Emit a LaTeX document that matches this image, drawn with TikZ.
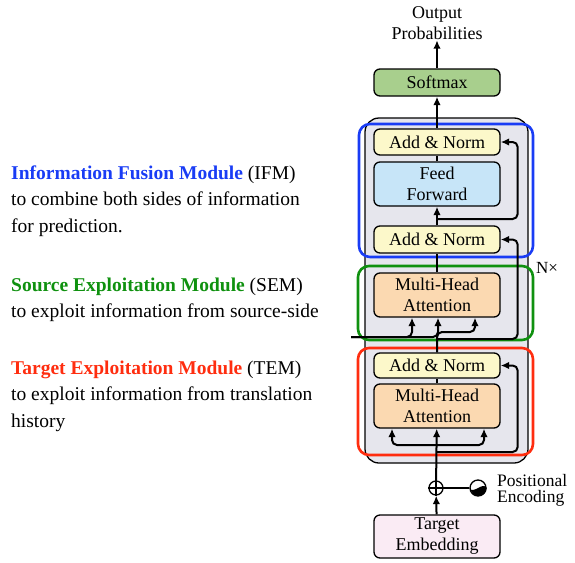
\documentclass[tikz,border=0pt]{standalone}
\usepackage{fontspec}
\setmainfont{Liberation Serif}
\usetikzlibrary{arrows.meta,positioning}

\definecolor{layergray}{RGB}{230,230,237}
\definecolor{softgreen}{RGB}{168,207,141}
\definecolor{normyellow}{RGB}{252,248,202}
\definecolor{ffblue}{RGB}{199,229,248}
\definecolor{attpeach}{RGB}{251,217,177}
\definecolor{embpink}{RGB}{250,235,244}
\definecolor{ifmblue}{RGB}{25,60,245}
\definecolor{semgreen}{RGB}{15,145,15}
\definecolor{temred}{RGB}{255,45,15}

\begin{document}
\begin{tikzpicture}[
  x=1pt, y=-1pt,
  >={Latex[length=8.5pt,width=7.5pt]},
  every node/.style={font=\fontsize{18}{21}\selectfont, inner sep=0pt, align=center},
  block/.style={draw, rounded corners=6pt, line width=1.3pt, minimum width=126pt},
  frame/.style={draw, rounded corners=11pt, line width=2.6pt},
  link/.style={line width=2pt},
  desc/.style={anchor=west, align=left, font=\fontsize{19.5}{26.5}\selectfont}
]
\useasboundingbox (0,0) rectangle (575,562);

% decoder layer and the three modules
\node[draw, fill=layergray, rounded corners=14pt, line width=1.3pt,
      minimum width=163pt, minimum height=345pt] (layer) at (446.5,290.5) {};
\node[frame, draw=ifmblue, minimum width=174pt, minimum height=133pt] (ifm) at (446,190.5) {};
\node[frame, draw=semgreen, minimum width=175pt, minimum height=74pt] (sem) at (445.5,303) {};
\node[frame, draw=temred, minimum width=175pt, minimum height=107pt] (tem) at (445.5,401.5) {};
\node[font=\fontsize{17}{20}\selectfont] (nx) at (547,268) {N×};

% blocks
\node[block, fill=softgreen, minimum height=27pt] (softmax) at (437,82.5) {Softmax};
\node[block, fill=normyellow, minimum height=26pt] (an3) at (437,142) {Add \& Norm};
\node[block, fill=ffblue, minimum height=44pt] (ff) at (437,184) {Feed\\Forward};
\node[block, fill=normyellow, minimum height=27pt] (an2) at (437,239.5) {Add \& Norm};
\node[block, fill=attpeach, minimum height=44pt] (mha2) at (437,295) {Multi-Head\\Attention};
\node[block, fill=normyellow, minimum height=25pt] (an1) at (437,365.5) {Add \& Norm};
\node[block, fill=attpeach, minimum height=44pt] (mha1) at (437,406) {Multi-Head\\Attention};
\node[block, fill=embpink, minimum height=43pt] (emb) at (437,536.5) {Target\\Embedding};
\node (out) at (437,23.5) {Output\\Probabilities};

% positional encoding
\node[draw, circle, line width=1.3pt, minimum size=14pt] (plus) at (436,488) {};
\draw[line width=1.2pt] (plus.north) -- (plus.south) (plus.west) -- (plus.east);
\node[draw, circle, line width=1.3pt, minimum size=16pt] (pe) at (478,488) {};
\fill (pe.west) .. controls ([xshift=4pt,yshift=-7pt]pe.west) and ([xshift=-4pt,yshift=7pt]pe.east) .. (pe.east)
  arc[start angle=0, end angle=-180, radius=8pt] -- cycle;
\node[anchor=west, align=left, font=\fontsize{17.5}{16}\selectfont] (petext) at (497,490) {Positional\\Encoding};

% helper points
\coordinate (s1) at (437,445);
\coordinate (r1) at (437,452);
\coordinate (q) at (437,332);
\coordinate (r2) at (437,339);
\coordinate (enc) at (351,337);
\coordinate (r3) at (437,219);

% connectors
\draw[link, ->] (emb) -- (plus);
\draw[link] (plus) -- (pe);
\draw[link, ->] (plus) -- (mha1);
\draw[link, ->, rounded corners=5pt] (s1) -| ([xshift=-45pt]mha1.south);
\draw[link, ->, rounded corners=5pt] (s1) -| ([xshift=47pt]mha1.south);
\draw[link, ->, rounded corners=5pt] (r1) -| ([xshift=17pt]an1.east) -- (an1.east);
\draw[link] (mha1) -- (an1);
\draw[link, ->, rounded corners=5pt] (an1.north) -- (q) -| ([xshift=38pt]mha2.south);
\draw[link, ->, rounded corners=5pt] (enc) -| ([xshift=-25pt]mha2.south);
\draw[link, ->, rounded corners=5pt] (enc) -| ([xshift=1pt]mha2.south);
\draw[link, ->, rounded corners=5pt] (r2) -| ([xshift=17pt]an2.east) -- (an2.east);
\draw[link] (mha2) -- (an2);
\draw[link, ->] (an2) -- (ff);
\draw[link, ->, rounded corners=5pt] (r3) -| ([xshift=17pt]an3.east) -- (an3.east);
\draw[link] (ff) -- (an3);
\draw[link, ->] (an3) -- (softmax);
\draw[link, ->] (softmax) -- (out);

% module descriptions
\node[desc] (ifmtext) at (11,201) {\textcolor{ifmblue}{\textbf{Information Fusion Module}} (IFM)\\to combine both sides of information\\for prediction.};
\node[desc] (semtext) at (11,300) {\textcolor{semgreen}{\textbf{Source Exploitation Module}} (SEM)\\to exploit information from source-side};
\node[desc] (temtext) at (11,396) {\textcolor{temred}{\textbf{Target Exploitation Module}} (TEM)\\to exploit information from translation\\history};
\end{tikzpicture}
\end{document}
